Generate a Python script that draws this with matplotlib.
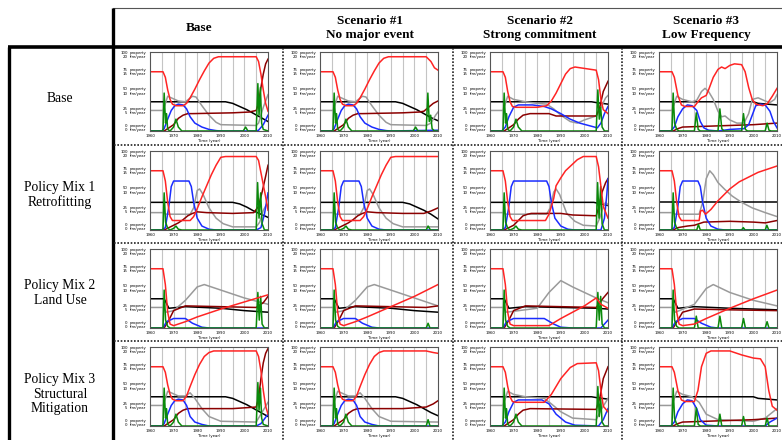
import matplotlib
matplotlib.use("Agg")
import matplotlib.pyplot as plt
import matplotlib.transforms as mtransforms

W, H = 782, 440

ROW_LABELS = ["Base", "Policy Mix 1\nRetrofitting", "Policy Mix 2\nLand Use",
              "Policy Mix 3\nStructural\nMitigation"]
COL_LABELS = ["Base", "Scenario #1\nNo major event", "Scenario #2\nStrong commitment",
              "Scenario #3\nLow Frequency"]

YTICKS = [0, 25, 50, 75, 100]
YTICK_FIRE = [0, 5, 10, 15, 20]
XTICKS = [1960, 1970, 1980, 1990, 2000, 2010]

# ---- row 1: Base ----
base_base = {
    "red": [(1960, 75), (1965.5, 75), (1966.5, 68), (1967.5, 52), (1968.5, 40), (1969.5, 34), (1971, 32),
            (1974, 32), (1975.5, 35), (1977, 42), (1979, 53), (1981, 65), (1983, 76), (1985, 86), (1987, 92),
            (1989, 94), (2005, 94), (2006, 88), (2007, 72), (2008, 52), (2009, 35), (2010, 25)],
    "black": [(1960, 37), (1992, 37), (1995, 35), (1998, 31), (2001, 27), (2004, 22), (2007, 17), (2010, 12)],
    "gray": [(1960, 26), (1965.5, 26), (1966, 30), (1967.5, 44), (1969, 42), (1972, 38), (1975, 37), (1978, 44),
             (1979.5, 43), (1982, 32), (1985, 20), (1988, 11), (1990, 8), (2005, 7), (2006, 10), (2008, 30),
             (2010, 46)],
    "blue": [(1960, 0), (1965, 0), (1966, 3), (1967.5, 15), (1969, 26), (1970.5, 32), (1972, 34), (1974, 33),
             (1975.5, 28), (1977, 18), (1979, 10), (1982, 5), (1985, 2), (1988, 0.5), (1990, 0), (2005, 0),
             (2006, 1), (2008, 8), (2010, 20)],
    "darkred": [(1960, 0), (1966, 0), (1967, 2), (1968.5, 5), (1970, 8), (1972, 16), (1974, 20), (1976, 22),
                (1978, 22), (1995, 23), (2002, 24), (2005, 26), (2006, 35), (2007, 55), (2008, 72), (2009, 85),
                (2010, 91)],
    "green": [(1960, 0), (1965.5, 0), (1966, 48), (1966.6, 10), (1967, 22), (1967.5, 2), (1968.5, 0), (1970, 5),
              (1971, 15), (1972, 5), (1973.5, 0), (1999.5, 0), (2000.5, 5), (2001.5, 0), (2005, 0), (2005.7, 60),
              (2006.2, 20), (2006.8, 55), (2007.3, 10), (2008, 2), (2010, 0)],
}
base_s1 = {
    "red": [(1960, 75), (1965.5, 75), (1966.5, 68), (1967.5, 52), (1968.5, 40), (1969.5, 34), (1971, 32),
            (1974, 32), (1975.5, 35), (1977, 42), (1979, 53), (1981, 65), (1983, 76), (1985, 86), (1987, 92),
            (1989, 94), (2005, 94), (2007, 88), (2008.5, 80), (2010, 77)],
    "black": [(1960, 37), (1992, 37), (1995, 35), (1998, 31), (2001, 27), (2004, 22), (2007, 17), (2010, 13)],
    "gray": [(1960, 26), (1965.5, 26), (1966, 30), (1967.5, 44), (1969, 42), (1972, 38), (1975, 37), (1978, 44),
             (1979.5, 43), (1982, 32), (1985, 20), (1988, 11), (1990, 8), (2005, 7), (2007, 10), (2009, 20),
             (2010, 24)],
    "blue": [(1960, 0), (1965, 0), (1966, 3), (1967.5, 15), (1969, 26), (1970.5, 32), (1972, 34), (1974, 33),
             (1975.5, 28), (1977, 18), (1979, 10), (1982, 5), (1985, 2), (1988, 0.5), (1990, 0), (2010, 1)],
    "darkred": [(1960, 0), (1966, 0), (1967, 2), (1968.5, 5), (1970, 8), (1972, 16), (1974, 20), (1976, 22),
                (1978, 22), (1995, 23), (2002, 24), (2004, 25), (2006, 30), (2008, 35), (2010, 38)],
    "green": [(1960, 0), (1965.5, 0), (1966, 48), (1966.6, 10), (1967, 22), (1967.5, 2), (1968.5, 0), (1970, 5),
              (1971, 15), (1972, 5), (1973.5, 0), (1999.5, 0), (2000.5, 5), (2001.5, 0), (2005, 0), (2005.7, 48),
              (2006.3, 12), (2006.9, 20), (2007.5, 3), (2008.5, 0), (2010, 0)],
}
base_s2 = {
    "red": [(1960, 75), (1965.5, 75), (1966.5, 68), (1967.5, 50), (1968.5, 37), (1969.5, 31), (1971, 30),
            (1980, 30), (1984, 32), (1986, 38), (1988, 48), (1990, 60), (1992, 72), (1994, 79), (1996, 81),
            (2005, 77), (2006, 65), (2007, 40), (2008, 27), (2010, 22)],
    "black": [(1960, 37), (2003, 37), (2005, 36), (2010, 34)],
    "gray": [(1960, 26), (1965.5, 26), (1967.5, 44), (1970, 40), (1975, 37), (1980, 35), (1984, 34), (1987, 28),
             (1990, 20), (1994, 12), (1997, 10), (2000, 14), (2005, 19), (2007, 30), (2009, 42), (2010, 45)],
    "blue": [(1960, 0), (1965, 0), (1966.5, 5), (1968, 18), (1970, 30), (1972, 33), (1978, 33), (1983, 31),
             (1986, 28), (1990, 22), (1994, 15), (1998, 10), (2003, 6), (2005.5, 4), (2007, 10), (2008.5, 22),
             (2010, 31)],
    "darkred": [(1960, 0), (1966, 0), (1968, 4), (1970, 8), (1972, 15), (1974, 20), (1977, 22), (1985, 22),
                (1988, 19), (2005, 19), (2006.5, 30), (2008, 50), (2010, 63)],
    "green": [(1960, 0), (1965.5, 0), (1966, 48), (1966.6, 10), (1967, 22), (1967.5, 2), (1968.5, 0), (1970, 5),
              (1971, 15), (1972, 5), (1973.5, 0), (2005, 0), (2005.7, 52), (2006.3, 15), (2006.9, 30),
              (2007.5, 5), (2008.5, 0), (2010, 0)],
}
base_s3 = {
    "red": [(1960, 75), (1965.5, 75), (1966.5, 68), (1968, 45), (1969.5, 33), (1971, 31), (1975, 31),
            (1976.5, 37), (1978, 42), (1980, 45), (1981, 52), (1983, 68), (1985, 78), (1986.5, 81), (1988, 79),
            (1990, 83), (1992, 85), (1995, 84), (1996.5, 75), (1998, 55), (1999.5, 40), (2001, 34), (2004, 32),
            (2006, 35), (2008, 44), (2010, 54)],
    "black": [(1960, 37), (2000, 37), (2002, 35), (2010, 33)],
    "gray": [(1960, 26), (1965.5, 26), (1967.5, 44), (1970, 40), (1974, 37), (1976, 39), (1978, 50),
             (1979.5, 54), (1981, 50), (1983, 40), (1985, 25), (1986.5, 18), (1988, 19), (1990, 14), (1993, 10),
             (1996, 10), (1998, 22), (1999.5, 40), (2002, 42), (2005, 38), (2007, 36), (2009, 40), (2010, 46)],
    "blue": [(1960, 0), (1965, 0), (1966.5, 5), (1968, 18), (1970, 28), (1972, 33), (1974, 32), (1976, 26),
             (1977.5, 12), (1979, 4), (1981, 1), (1985, 0), (1990, 2), (1996, 3), (1998, 8), (1999.5, 20),
             (2001, 32), (2003, 34), (2005, 33), (2007, 25), (2008.5, 12), (2010, 4)],
    "darkred": [(1960, 0), (1966, 0), (1968, 3), (1970, 5), (1980, 6), (1990, 7), (2000, 8), (2010, 10)],
    "green": [(1960, 0), (1965.5, 0), (1966, 48), (1966.6, 10), (1967.5, 2), (1968.5, 0), (1975, 0),
              (1975.8, 23), (1976.6, 2), (1977.5, 0), (1985, 0), (1985.8, 28), (1986.6, 3), (1987.5, 0),
              (1995, 0), (1995.8, 22), (1996.6, 2), (1997.5, 0), (2005, 0), (2005.8, 10), (2006.6, 1),
              (2007.5, 0), (2010, 0)],
}

# ---- row 2: Policy Mix 1 ----
pm1_base = {
    "red": [(1960, 75), (1965.5, 75), (1966.5, 62), (1967.5, 35), (1968.5, 17), (1969.5, 12), (1977, 12),
            (1978.5, 17), (1980, 27), (1982, 42), (1984, 56), (1986, 70), (1988, 82), (1990, 92), (1992, 93),
            (2005, 93), (2006, 88), (2007.5, 65), (2009, 42), (2010, 25)],
    "black": [(1960, 35), (1995, 35), (1998, 33), (2001, 29), (2004, 24), (2007, 20), (2010, 16)],
    "gray": [(1960, 22), (1965.5, 22), (1967, 20), (1977, 20), (1978.5, 28), (1980, 50), (1981, 52),
             (1982.5, 45), (1985, 28), (1988, 15), (1991, 8), (1995, 4), (2005, 4), (2006.5, 10), (2008, 25),
             (2009.5, 33), (2010, 30)],
    "blue": [(1960, 0), (1965, 0), (1966.5, 3), (1968, 30), (1969, 55), (1970, 62), (1976.5, 62), (1977.5, 55),
             (1978.5, 35), (1980, 15), (1982, 5), (1985, 1), (1988, 0), (2005, 0), (2007, 3), (2008.5, 20),
             (2010, 47)],
    "darkred": [(1960, 0), (1966, 0), (1968, 3), (1970, 6), (1972, 9), (1974, 13), (1976, 18), (1978, 21),
                (1980, 23), (1984, 22), (1995, 21), (2004, 22), (2006, 30), (2007.5, 48), (2009, 68),
                (2010, 82)],
    "green": [(1960, 0), (1965.5, 0), (1966, 47), (1966.6, 10), (1967.5, 2), (1968.5, 0), (1970, 2),
              (1971, 5), (1972, 1), (1973.5, 0), (2005, 0), (2005.6, 60), (2006.2, 15), (2006.9, 47),
              (2007.5, 8), (2008.5, 0), (2010, 0)],
}
pm1_s1 = {
    "red": [(1960, 75), (1965.5, 75), (1966.5, 62), (1967.5, 35), (1968.5, 17), (1969.5, 12), (1977, 12),
            (1978.5, 17), (1980, 27), (1982, 42), (1984, 56), (1986, 70), (1988, 82), (1990, 92), (1992, 93),
            (2010, 93)],
    "black": [(1960, 35), (1995, 35), (1998, 33), (2001, 29), (2004, 25), (2007, 20), (2010, 14)],
    "gray": [(1960, 22), (1965.5, 22), (1967, 20), (1977, 20), (1978.5, 28), (1980, 50), (1981, 52),
             (1982.5, 45), (1985, 28), (1988, 15), (1991, 8), (1995, 4), (2010, 4)],
    "blue": [(1960, 0), (1965, 0), (1966.5, 3), (1968, 30), (1969, 55), (1970, 62), (1976.5, 62), (1977.5, 55),
             (1978.5, 35), (1980, 15), (1982, 5), (1985, 1), (1988, 0), (2010, 0)],
    "darkred": [(1960, 0), (1966, 0), (1968, 3), (1970, 6), (1972, 9), (1974, 13), (1976, 18), (1978, 21),
                (1980, 23), (1984, 22), (1995, 21), (2004, 21), (2007, 24), (2010, 28)],
    "green": [(1960, 0), (1965.5, 0), (1966, 47), (1966.6, 10), (1967.5, 2), (1968.5, 0), (1970, 2),
              (1971, 5), (1972, 1), (1973.5, 0), (2005, 0), (2005.8, 5), (2006.8, 0), (2010, 0)],
}
pm1_s2 = {
    "red": [(1960, 75), (1965.5, 75), (1966.5, 62), (1967.5, 35), (1968.5, 17), (1969.5, 12), (1983.5, 12),
            (1985, 20), (1987, 40), (1988, 56), (1990, 66), (1992, 75), (1994.5, 82), (1997, 89), (1999.5, 93),
            (2005, 93), (2006, 80), (2007, 55), (2008, 30), (2010, 15)],
    "black": [(1960, 35), (2004, 35), (2007, 33), (2010, 31)],
    "gray": [(1960, 22), (1965.5, 22), (1967, 20), (1984, 20), (1985.5, 28), (1987, 48), (1988, 52),
             (1989.5, 45), (1992.5, 21), (1996, 11), (1999.5, 6), (2005, 5), (2006.5, 15), (2008, 30), (2009, 35),
             (2010, 32)],
    "blue": [(1960, 0), (1965, 0), (1966.5, 3), (1968, 30), (1969, 55), (1970, 62), (1984, 62), (1985, 55),
             (1986, 35), (1987.5, 15), (1990, 5), (1993, 1), (1996, 0), (2007, 0), (2008.5, 15), (2009.5, 45),
             (2010, 65)],
    "darkred": [(1960, 0), (1966, 0), (1968, 3), (1970, 6), (1972, 12), (1974, 18), (1976, 20), (1977.5, 21),
                (1990, 21), (1995, 19), (2005, 18), (2006, 28), (2007.5, 48), (2009, 60), (2010, 65)],
    "green": [(1960, 0), (1965.5, 0), (1966, 47), (1966.6, 10), (1967.5, 2), (1968.5, 0), (1970, 2),
              (1971, 5), (1972, 1), (1973.5, 0), (2005, 0), (2005.6, 60), (2006.2, 15), (2006.9, 55),
              (2007.5, 8), (2008.5, 0), (2010, 0)],
}
pm1_s3 = {
    "red": [(1960, 75), (1965.5, 75), (1966.5, 62), (1967.5, 35), (1968.5, 17), (1969.5, 12), (1977, 12),
            (1977.6, 24), (1978.5, 25), (1979.7, 20), (1982, 26), (1985, 37), (1990, 52), (1994, 61), (1998, 67),
            (2002, 73), (2006, 77), (2010, 81)],
    "black": [(1960, 35), (2010, 35)],
    "gray": [(1960, 22), (1965.5, 22), (1967, 20), (1977, 20), (1978.5, 35), (1980, 65), (1981.5, 75),
             (1983, 70), (1985, 60), (1988, 51), (1991, 43), (1995, 35), (1999.5, 28), (2005, 22), (2010, 17)],
    "blue": [(1960, 0), (1965, 0), (1966.5, 3), (1968, 30), (1969, 55), (1970, 62), (1976.5, 62), (1977.5, 55),
             (1978.5, 35), (1980, 15), (1982, 5), (1985, 1), (1988, 0), (2010, 0)],
    "darkred": [(1960, 0), (1966, 0), (1968, 3), (1970, 4), (1972, 5), (1975, 6), (1977, 8), (1979, 10),
                (1990, 11), (2000, 10), (2005, 9), (2010, 12)],
    "green": [(1960, 0), (1965.5, 0), (1966, 47), (1966.6, 10), (1967.5, 2), (1968.5, 0), (1976, 0),
              (1976.7, 7), (1977.5, 0), (1995, 0), (1995.7, 3), (1996.5, 0), (2005, 0), (2005.7, 6),
              (2006.5, 0), (2010, 0)],
}

# ---- row 3: Policy Mix 2 ----
pm2_base = {
    "red": [(1960, 75), (1965.5, 75), (1966.5, 55), (1967.5, 20), (1968.5, 5), (1970, 3), (1975, 8),
            (1980, 14), (1990, 24), (2000, 33), (2010, 42)],
    "black": [(1960, 37), (1966, 37), (1968, 25), (1975, 27), (1990, 25), (2000, 22), (2010, 20)],
    "gray": [(1960, 26), (1965.5, 26), (1967, 20), (1970, 22), (1975, 35), (1980, 52), (1983, 55), (1990, 48),
             (2000, 38), (2010, 30)],
    "blue": [(1960, 0), (1965.5, 0), (1967, 8), (1970, 12), (1975, 12), (1978, 6), (1982, 1), (1985, 0),
             (2010, 0)],
    "darkred": [(1960, 0), (1966, 0), (1968, 10), (1970, 22), (1975, 28), (1990, 27), (2005, 26), (2008, 32),
                (2010, 40)],
    "green": [(1960, 0), (1965.5, 0), (1966, 48), (1966.6, 10), (1967.5, 2), (1968.5, 0), (2005, 0),
              (2005.7, 45), (2006.3, 10), (2006.9, 40), (2007.5, 5), (2008.5, 0), (2010, 0)],
}
pm2_s1 = {
    "red": [(1960, 75), (1965.5, 75), (1966.5, 55), (1967.5, 20), (1968.5, 5), (1970, 3), (1975, 8),
            (1980, 14), (1990, 27), (2000, 40), (2010, 55)],
    "black": [(1960, 37), (1966, 37), (1968, 25), (1975, 27), (1990, 25), (2000, 22), (2010, 20)],
    "gray": [(1960, 26), (1965.5, 26), (1967, 20), (1970, 22), (1975, 35), (1980, 52), (1983, 55), (1990, 48),
             (2000, 38), (2010, 28)],
    "blue": [(1960, 0), (1965.5, 0), (1967, 8), (1970, 12), (1975, 12), (1978, 6), (1982, 1), (1985, 0),
             (2010, 0)],
    "darkred": [(1960, 0), (1966, 0), (1968, 10), (1970, 22), (1975, 28), (1990, 27), (2005, 26), (2010, 28)],
    "green": [(1960, 0), (1965.5, 0), (1966, 48), (1966.6, 10), (1967.5, 2), (1968.5, 0), (2005, 0),
              (2005.8, 6), (2006.6, 0), (2010, 0)],
}
pm2_s2 = {
    "red": [(1960, 75), (1965.5, 75), (1966.5, 55), (1967.5, 20), (1968.5, 5), (1970, 3), (1985, 3),
            (1990, 12), (2000, 28), (2005, 38), (2007, 30), (2010, 25)],
    "black": [(1960, 37), (1966, 37), (1968, 25), (1975, 27), (1990, 26), (2005, 25), (2010, 24)],
    "gray": [(1960, 26), (1965.5, 26), (1967, 20), (1980, 25), (1985, 45), (1990, 60), (1995, 52), (2005, 38),
             (2010, 32)],
    "blue": [(1960, 0), (1965.5, 0), (1967, 8), (1970, 12), (1983, 12), (1987, 5), (1990, 1), (1995, 0),
             (2007, 0), (2010, 10)],
    "darkred": [(1960, 0), (1966, 0), (1968, 10), (1970, 22), (1975, 28), (1990, 27), (2005, 26), (2008, 38),
                (2010, 45)],
    "green": [(1960, 0), (1965.5, 0), (1966, 48), (1966.6, 10), (1967.5, 2), (1968.5, 0), (2005, 0),
              (2005.7, 45), (2006.3, 10), (2006.9, 40), (2007.5, 5), (2008.5, 0), (2010, 0)],
}
pm2_s3 = {
    "red": [(1960, 75), (1965.5, 75), (1966.5, 55), (1967.5, 20), (1968.5, 5), (1970, 3), (1975, 5),
            (1980, 12), (1990, 25), (2000, 37), (2010, 48)],
    "black": [(1960, 37), (1966, 37), (1968, 25), (1975, 27), (1990, 25), (2000, 24), (2010, 23)],
    "gray": [(1960, 26), (1965.5, 26), (1967, 20), (1975, 30), (1980, 50), (1983, 55), (1990, 45),
             (2000, 35), (2010, 28)],
    "blue": [(1960, 0), (1965.5, 0), (1967, 8), (1970, 12), (1975, 12), (1978, 6), (1982, 1), (1985, 0),
             (2010, 0)],
    "darkred": [(1960, 0), (1966, 0), (1968, 10), (1970, 20), (1975, 24), (1990, 23), (2010, 22)],
    "green": [(1960, 0), (1965.5, 0), (1966, 48), (1966.6, 10), (1967.5, 2), (1968.5, 0), (1975, 0),
              (1975.8, 15), (1976.6, 0), (1985, 0), (1985.8, 15), (1986.6, 0), (1995, 0), (1995.8, 12),
              (1996.6, 0), (2005, 0), (2005.8, 8), (2006.6, 0), (2010, 0)],
}

# ---- row 4: Policy Mix 3 ----
pm3_base = {
    "red": [(1960, 75), (1965.5, 75), (1966.5, 68), (1967.5, 52), (1968.5, 40), (1969.5, 34), (1971, 32),
            (1974, 32), (1975.5, 38), (1977, 50), (1979, 65), (1981, 78), (1983, 88), (1985, 93), (1987, 95),
            (2005, 95), (2006, 88), (2007, 70), (2008, 45), (2009, 25), (2010, 15)],
    "black": [(1960, 37), (1992, 37), (1995, 35), (1998, 31), (2001, 27), (2004, 22), (2007, 17), (2010, 12)],
    "gray": [(1960, 26), (1965.5, 26), (1966, 30), (1967.5, 44), (1969, 42), (1972, 38), (1975, 38),
             (1977, 42), (1979, 35), (1982, 22), (1985, 12), (1990, 6), (2005, 5), (2007, 15), (2010, 30)],
    "blue": [(1960, 0), (1965, 0), (1966, 3), (1967.5, 15), (1969, 26), (1970.5, 32), (1972, 34), (1974, 33),
             (1975.5, 26), (1977, 12), (1979, 5), (1982, 2), (1985, 0), (2005, 0), (2007, 3), (2010, 15)],
    "darkred": [(1960, 0), (1966, 0), (1967, 2), (1968.5, 5), (1970, 8), (1972, 16), (1974, 20), (1976, 22),
                (1995, 22), (2005, 24), (2006, 35), (2007, 60), (2008, 80), (2009, 92), (2010, 98)],
    "green": [(1960, 0), (1965.5, 0), (1966, 48), (1966.6, 10), (1967, 22), (1967.5, 2), (1968.5, 0),
              (1970, 5), (1971, 15), (1972, 5), (1973.5, 0), (2005, 0), (2005.7, 55), (2006.2, 20),
              (2006.8, 48), (2007.3, 10), (2008, 2), (2010, 0)],
}
pm3_s1 = {
    "red": [(1960, 75), (1965.5, 75), (1966.5, 68), (1967.5, 52), (1968.5, 40), (1969.5, 34), (1971, 32),
            (1974, 32), (1975.5, 38), (1977, 50), (1979, 65), (1981, 78), (1983, 88), (1985, 93), (1987, 95),
            (2005, 95), (2008, 93), (2010, 92)],
    "black": [(1960, 37), (1992, 37), (1995, 35), (1998, 31), (2001, 27), (2004, 22), (2007, 17), (2010, 13)],
    "gray": [(1960, 26), (1965.5, 26), (1966, 30), (1967.5, 44), (1969, 42), (1972, 38), (1975, 38),
             (1977, 42), (1979, 35), (1982, 22), (1985, 12), (1990, 6), (2010, 5)],
    "blue": [(1960, 0), (1965, 0), (1966, 3), (1967.5, 15), (1969, 26), (1970.5, 32), (1972, 34), (1974, 33),
             (1975.5, 26), (1977, 12), (1979, 5), (1982, 2), (1985, 0), (2010, 0)],
    "darkred": [(1960, 0), (1966, 0), (1967, 2), (1968.5, 5), (1970, 8), (1972, 16), (1974, 20), (1976, 22),
                (1995, 22), (2005, 24), (2008, 28), (2010, 32)],
    "green": [(1960, 0), (1965.5, 0), (1966, 48), (1966.6, 10), (1967, 22), (1967.5, 2), (1968.5, 0),
              (1970, 5), (1971, 15), (1972, 5), (1973.5, 0), (2005, 0), (2005.8, 8), (2006.6, 0), (2010, 0)],
}
pm3_s2 = {
    "red": [(1960, 75), (1965.5, 75), (1966.5, 68), (1967.5, 50), (1968.5, 37), (1969.5, 31), (1971, 30),
            (1983, 30), (1986, 40), (1990, 60), (1994, 74), (1997, 79), (2005, 80), (2006, 70), (2007, 45),
            (2008, 25), (2010, 18)],
    "black": [(1960, 37), (2003, 37), (2005, 36), (2010, 34)],
    "gray": [(1960, 26), (1965.5, 26), (1967.5, 44), (1970, 40), (1975, 37), (1983, 35), (1986, 28),
             (1990, 18), (1995, 10), (2005, 8), (2007, 20), (2010, 35)],
    "blue": [(1960, 0), (1965, 0), (1966.5, 5), (1968, 18), (1970, 30), (1972, 33), (1982, 33), (1985, 28),
             (1988, 15), (1992, 5), (1996, 1), (2006, 0), (2008, 8), (2010, 22)],
    "darkred": [(1960, 0), (1966, 0), (1968, 4), (1970, 8), (1972, 15), (1974, 20), (1977, 22), (2005, 21),
                (2006.5, 35), (2008, 60), (2010, 75)],
    "green": [(1960, 0), (1965.5, 0), (1966, 48), (1966.6, 10), (1967, 22), (1967.5, 2), (1968.5, 0),
              (1970, 5), (1971, 15), (1972, 5), (1973.5, 0), (2005, 0), (2005.7, 50), (2006.3, 12),
              (2006.9, 35), (2007.5, 5), (2008.5, 0), (2010, 0)],
}
pm3_s3 = {
    "red": [(1960, 75), (1965.5, 75), (1966.5, 68), (1968, 45), (1969.5, 33), (1971, 31), (1975, 31),
            (1976.5, 45), (1978, 75), (1980, 92), (1982, 95), (1990, 95), (1995, 90), (2000, 86), (2003, 85),
            (2005, 75), (2006.5, 45), (2008, 25), (2010, 20)],
    "black": [(1960, 37), (2000, 37), (2002, 35), (2010, 33)],
    "gray": [(1960, 26), (1965.5, 26), (1967.5, 44), (1970, 40), (1974, 37), (1977, 30), (1980, 15),
             (1985, 8), (2000, 6), (2005, 10), (2010, 22)],
    "blue": [(1960, 0), (1965, 0), (1966.5, 5), (1968, 18), (1970, 28), (1972, 33), (1974, 32), (1976, 22),
             (1977.5, 8), (1980, 1), (1985, 0), (2005, 0), (2007, 5), (2010, 10)],
    "darkred": [(1960, 0), (1966, 0), (1968, 3), (1970, 5), (1980, 6), (1990, 7), (2000, 8), (2010, 10)],
    "green": [(1960, 0), (1965.5, 0), (1966, 48), (1966.6, 10), (1967.5, 2), (1968.5, 0), (1975, 0),
              (1975.8, 23), (1976.6, 2), (1977.5, 0), (1985, 0), (1985.8, 15), (1986.6, 0), (1995, 0),
              (1995.8, 12), (1996.6, 0), (2005, 0), (2005.8, 10), (2006.6, 0), (2010, 0)],
}

PANELS = [
    [base_base, base_s1, base_s2, base_s3],
    [pm1_base, pm1_s1, pm1_s2, pm1_s3],
    [pm2_base, pm2_s1, pm2_s2, pm2_s3],
    [pm3_base, pm3_s1, pm3_s2, pm3_s3],
]

COLORS = {"black": "#000000", "gray": "#9a9a9a", "darkred": "#8b0000",
          "blue": "#1a2cff", "green": "#0a8a0a", "red": "#ff2424"}
DRAW_ORDER = ["black", "gray", "darkred", "blue", "green", "red"]

# layout (pixels)
PLOT_LEFT = [150, 320, 490, 659]
PLOT_W = 118
PLOT_TOP = [52, 151, 249, 347]
PLOT_H = 79
COL_LINES = [283, 453, 622]
ROW_LINES = [145, 243, 341]

fig = plt.figure(figsize=(W / 100, H / 100), dpi=100)
fig.patch.set_facecolor("white")

grid = fig.add_axes([0, 0, 1, 1])
grid.set_xlim(0, W)
grid.set_ylim(H, 0)
grid.axis("off")

# table frame
grid.plot([113, W], [8, 8], color="#555555", lw=0.8)
grid.plot([113, 113], [8, H], color="black", lw=2.4, solid_capstyle="butt")
grid.plot([8, W], [47, 47], color="black", lw=2.6, solid_capstyle="butt")
grid.plot([9, 9], [47, H], color="black", lw=2.4, solid_capstyle="butt")
for x in COL_LINES:
    grid.plot([x, x], [48, H], color="#222222", lw=1.2, linestyle=(0, (1, 1)))
for y in ROW_LINES:
    grid.plot([114, W], [y, y], color="#222222", lw=1.2, linestyle=(0, (1, 1)))

serif = ["Liberation Serif", "DejaVu Serif"]
col_centres = [199, 370, 540, 706]
for x, lab in zip(col_centres, COL_LABELS):
    grid.text(x, 28, lab, ha="center", va="center", fontsize=9.5, fontweight="bold",
              family=serif, linespacing=1.15)
row_centres = [98, 195, 293, 394]
for y, lab in zip(row_centres, ROW_LABELS):
    grid.text(60, y, lab, ha="center", va="center", fontsize=9.8, family=serif, linespacing=1.15)

for r, row in enumerate(PANELS):
    for c, data in enumerate(row):
        l, t = PLOT_LEFT[c], PLOT_TOP[r]
        ax = fig.add_axes([l / W, 1 - (t + PLOT_H) / H, PLOT_W / W, PLOT_H / H])
        ax.set_xlim(1960, 2010)
        ax.set_ylim(0, 100)
        for yr in range(1965, 2010, 5):
            ax.axvline(yr, color="#c4c4c4", lw=0.8, zorder=0)
        for key in DRAW_ORDER:
            pts = data[key]
            ax.plot([p[0] for p in pts], [p[1] for p in pts], color=COLORS[key], lw=1.1,
                    solid_joinstyle="round", clip_on=True)
        ax.set_xticks([])
        ax.set_yticks([])
        for s in ax.spines.values():
            s.set_color("#555555")
            s.set_linewidth(0.8)
        # vensim-like tiny tick labels
        trans = mtransforms.blended_transform_factory(ax.transAxes, ax.transData)
        for v, f in zip(YTICKS, YTICK_FIRE):
            yv = min(max(v, 4), 96)
            ax.text(-0.19, yv, f"{v}\n{f}", transform=trans, ha="right", va="center",
                    fontsize=2.8, linespacing=1.1)
            ax.text(-0.17, yv, "property\nfire/year", transform=trans, ha="left", va="center",
                    fontsize=2.8, linespacing=1.1)
        trans_x = mtransforms.blended_transform_factory(ax.transData, ax.transAxes)
        for yr in XTICKS:
            ax.text(yr, -0.035, str(yr), transform=trans_x, ha="center", va="top", fontsize=2.8)
        ax.text(0.5, -0.10, "Time (year)", transform=ax.transAxes, ha="center", va="top", fontsize=2.8)

fig.savefig("out.png", dpi=100)
